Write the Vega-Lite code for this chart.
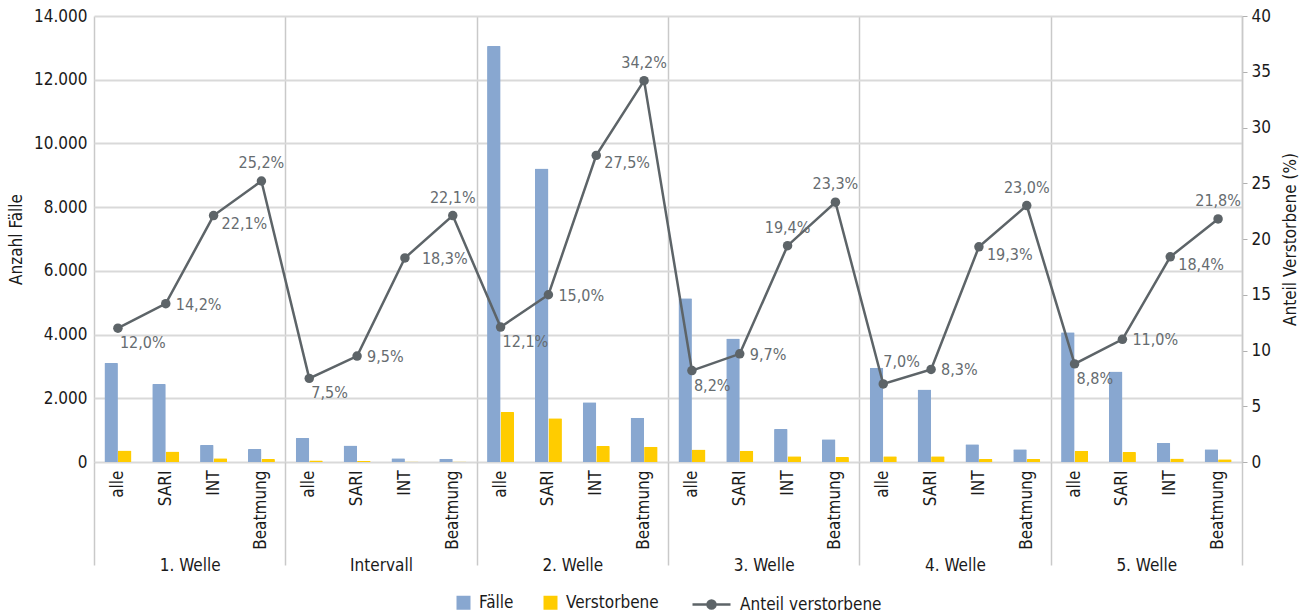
{
  "$schema": "https://vega.github.io/schema/vega-lite/v6.json",
  "width": 1148,
  "height": 446,
  "autosize": "none",
  "padding": {"left": 94, "top": 16, "right": 64, "bottom": 154},
  "background": "white",
  "config": {
    "font": "DejaVu Sans Condensed, Roboto, sans-serif",
    "view": {"stroke": null},
    "axis": {"labelFont": "DejaVu Sans Condensed, Roboto, sans-serif", "titleFont": "DejaVu Sans Condensed, Roboto, sans-serif", "labelFontSize": 17, "titleFontSize": 17, "labelColor": "#1a1a1a", "titleColor": "#1a1a1a", "titleFontWeight": "normal"},
    "legend": {"labelFont": "DejaVu Sans Condensed, Roboto, sans-serif", "labelFontSize": 17, "labelColor": "#1a1a1a"},
    "text": {"font": "DejaVu Sans Condensed, Roboto, sans-serif"}
  },
  "data": {
    "values": [
      {"group": "1. Welle", "cat": "alle", "Fälle": 3110, "Verstorbene": 360, "pct": 12.0},
      {"group": "1. Welle", "cat": "SARI", "Fälle": 2446, "Verstorbene": 330, "pct": 14.2},
      {"group": "1. Welle", "cat": "INT", "Fälle": 537, "Verstorbene": 115, "pct": 22.1},
      {"group": "1. Welle", "cat": "Beatmung", "Fälle": 411, "Verstorbene": 95, "pct": 25.2},
      {"group": "Intervall", "cat": "alle", "Fälle": 750, "Verstorbene": 50, "pct": 7.5},
      {"group": "Intervall", "cat": "SARI", "Fälle": 515, "Verstorbene": 35, "pct": 9.5},
      {"group": "Intervall", "cat": "INT", "Fälle": 117, "Verstorbene": 15, "pct": 18.3},
      {"group": "Intervall", "cat": "Beatmung", "Fälle": 100, "Verstorbene": 15, "pct": 22.1},
      {"group": "2. Welle", "cat": "alle", "Fälle": 13060, "Verstorbene": 1570, "pct": 12.1},
      {"group": "2. Welle", "cat": "SARI", "Fälle": 9210, "Verstorbene": 1375, "pct": 15.0},
      {"group": "2. Welle", "cat": "INT", "Fälle": 1877, "Verstorbene": 500, "pct": 27.5},
      {"group": "2. Welle", "cat": "Beatmung", "Fälle": 1390, "Verstorbene": 478, "pct": 34.2},
      {"group": "3. Welle", "cat": "alle", "Fälle": 5140, "Verstorbene": 390, "pct": 8.2},
      {"group": "3. Welle", "cat": "SARI", "Fälle": 3877, "Verstorbene": 350, "pct": 9.7},
      {"group": "3. Welle", "cat": "INT", "Fälle": 1033, "Verstorbene": 178, "pct": 19.4},
      {"group": "3. Welle", "cat": "Beatmung", "Fälle": 717, "Verstorbene": 158, "pct": 23.3},
      {"group": "4. Welle", "cat": "alle", "Fälle": 2960, "Verstorbene": 180, "pct": 7.0},
      {"group": "4. Welle", "cat": "SARI", "Fälle": 2275, "Verstorbene": 180, "pct": 8.3},
      {"group": "4. Welle", "cat": "INT", "Fälle": 560, "Verstorbene": 95, "pct": 19.3},
      {"group": "4. Welle", "cat": "Beatmung", "Fälle": 400, "Verstorbene": 95, "pct": 23.0},
      {"group": "5. Welle", "cat": "alle", "Fälle": 4076, "Verstorbene": 350, "pct": 8.8},
      {"group": "5. Welle", "cat": "SARI", "Fälle": 2844, "Verstorbene": 310, "pct": 11.0},
      {"group": "5. Welle", "cat": "INT", "Fälle": 600, "Verstorbene": 110, "pct": 18.4},
      {"group": "5. Welle", "cat": "Beatmung", "Fälle": 401, "Verstorbene": 85, "pct": 21.8}
    ]
  },
  "transform": [
    {"calculate": "datum.group + '|' + datum.cat", "as": "key"},
    {"calculate": "replace(format(datum.pct, '.1f'), '.', ',') + '%'", "as": "lbl"}
  ],
  "layer": [
    {
      "encoding": {
        "x": {
          "field": "key", "type": "nominal",
          "scale": {
            "type": "band",
            "domain": ["1. Welle|alle", "1. Welle|SARI", "1. Welle|INT", "1. Welle|Beatmung", "Intervall|alle", "Intervall|SARI", "Intervall|INT", "Intervall|Beatmung", "2. Welle|alle", "2. Welle|SARI", "2. Welle|INT", "2. Welle|Beatmung", "3. Welle|alle", "3. Welle|SARI", "3. Welle|INT", "3. Welle|Beatmung", "4. Welle|alle", "4. Welle|SARI", "4. Welle|INT", "4. Welle|Beatmung", "5. Welle|alle", "5. Welle|SARI", "5. Welle|INT", "5. Welle|Beatmung"],
            "paddingInner": 0.435, "paddingOuter": 0.2175
          },
          "axis": {"orient": "bottom", "title": null, "labelExpr": "split(datum.value, '|')[1]", "labelAngle": 270, "labelPadding": 8, "ticks": false, "domain": false, "grid": false, "labelOverlap": false}
        }
      },
      "layer": [
        {
          "transform": [{"fold": ["Fälle", "Verstorbene"], "as": ["series", "value"]}],
          "mark": {"type": "bar", "cornerRadiusTopLeft": 1, "cornerRadiusTopRight": 1},
          "encoding": {
            "xOffset": {"field": "series", "type": "nominal", "scale": {"domain": ["Fälle", "Verstorbene"], "paddingInner": 0, "paddingOuter": 0}},
            "y": {
              "field": "value", "type": "quantitative",
              "scale": {"domain": [0, 14000], "nice": false},
              "axis": {"orient": "left", "title": "Anzahl Fälle", "values": [0, 2000, 4000, 6000, 8000, 10000, 12000, 14000], "labelExpr": "replace(format(datum.value, ','), ',', '.')", "grid": true, "gridColor": "#d9d9d9", "gridWidth": 2, "domain": false, "ticks": false, "labelPadding": 7, "titlePadding": 8}
            },
            "color": {
              "field": "series", "type": "nominal",
              "scale": {"domain": ["Fälle", "Verstorbene"], "range": ["#88a7d0", "#ffcc00"]},
              "legend": {"orient": "none", "legendX": 361, "legendY": 578, "direction": "horizontal", "title": null, "symbolType": "square", "symbolSize": 196, "labelOffset": 7, "columnPadding": 28}
            }
          }
        },
        {
          "encoding": {
            "y": {
              "field": "pct", "type": "quantitative",
              "scale": {"domain": [0, 40], "nice": false},
              "axis": {"orient": "right", "title": "Anteil Verstorbene (%)", "values": [0, 5, 10, 15, 20, 25, 30, 35, 40], "grid": false, "domain": true, "domainColor": "#c9c9c9", "domainWidth": 1.5, "ticks": true, "tickColor": "#b0b0b0", "tickSize": 5, "labelPadding": 4, "titleAngle": 270, "titleBaseline": "top", "titlePadding": 12}
            }
          },
          "layer": [
            {
              "mark": {"type": "line", "strokeWidth": 2.5},
              "encoding": {
                "stroke": {
                  "datum": "Anteil verstorbene",
                  "scale": {"domain": ["Anteil verstorbene"], "range": ["#5d6468"]},
                  "legend": {"orient": "none", "legendX": 597, "legendY": 568, "title": null, "symbolType": "M-1,0H1M-0.21,0A0.21,0.21 0 1,0 0.21,0A0.21,0.21 0 1,0 -0.21,0Z", "symbolSize": 1444, "symbolStrokeWidth": 2.5, "labelOffset": 8, "encode": {"symbols": {"update": {"fill": {"value": "#5d6468"}, "fillOpacity": {"value": 1}}}}}
                }
              }
            },
            {
              "mark": {"type": "point", "filled": true, "size": 90, "color": "#5d6468", "opacity": 1}
            },
            {
              "transform": [{"filter": "datum.cat === 'Beatmung' || (datum.group === '3. Welle' && datum.cat === 'INT')"}],
              "mark": {"type": "text", "align": "center", "baseline": "middle", "dy": -18, "fontSize": 16, "color": "#666c70"},
              "encoding": {"text": {"field": "lbl"}}
            },
            {
              "transform": [{"filter": "datum.group === '4. Welle' && datum.cat === 'alle'"}],
              "mark": {"type": "text", "align": "left", "baseline": "middle", "dx": 0, "dy": -22, "fontSize": 16, "color": "#666c70"},
              "encoding": {"text": {"field": "lbl"}}
            },
            {
              "transform": [{"filter": "datum.cat === 'SARI'"}],
              "mark": {"type": "text", "align": "left", "baseline": "middle", "dx": 10, "dy": 1, "fontSize": 16, "color": "#666c70"},
              "encoding": {"text": {"field": "lbl"}}
            },
            {
              "transform": [{"filter": "datum.cat === 'alle' && datum.group !== '4. Welle'"}],
              "mark": {"type": "text", "align": "left", "baseline": "middle", "dx": 2, "dy": 15, "fontSize": 16, "color": "#666c70"},
              "encoding": {"text": {"field": "lbl"}}
            },
            {
              "transform": [{"filter": "datum.cat === 'INT' && datum.group !== '3. Welle' && datum.group !== 'Intervall'"}],
              "mark": {"type": "text", "align": "left", "baseline": "middle", "dx": 8, "dy": 8, "fontSize": 16, "color": "#666c70"},
              "encoding": {"text": {"field": "lbl"}}
            },
            {
              "transform": [{"filter": "datum.cat === 'INT' && datum.group === 'Intervall'"}],
              "mark": {"type": "text", "align": "left", "baseline": "middle", "dx": 17, "dy": 1, "fontSize": 16, "color": "#666c70"},
              "encoding": {"text": {"field": "lbl"}}
            }
          ]
        }
      ],
      "resolve": {"scale": {"y": "independent"}}
    },
    {
      "mark": {"type": "point", "opacity": 0},
      "encoding": {
        "x": {
          "field": "group", "type": "nominal",
          "scale": {"type": "band", "domain": ["1. Welle", "Intervall", "2. Welle", "3. Welle", "4. Welle", "5. Welle"], "paddingInner": 0, "paddingOuter": 0},
          "axis": {"orient": "bottom", "title": null, "tickBand": "extent", "ticks": true, "tickSize": 103, "tickColor": "#c9c9c9", "tickWidth": 1.5, "grid": true, "gridColor": "#c9c9c9", "gridWidth": 1.5, "domain": false, "labelAngle": 0, "labelPadding": -8, "labelOverlap": false}
        }
      }
    }
  ],
  "resolve": {"scale": {"x": "independent"}}
}
